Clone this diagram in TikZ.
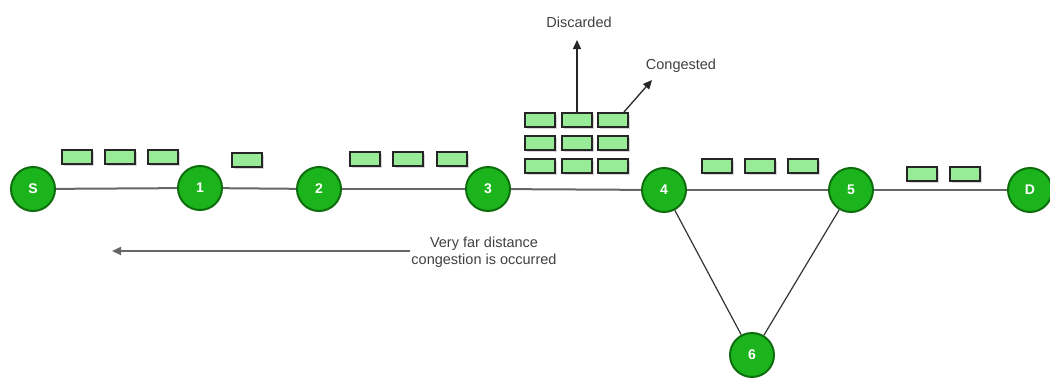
\documentclass[tikz,border=0pt]{standalone}
\usepackage{fontspec}
\setmainfont{Liberation Sans}
\usetikzlibrary{arrows.meta,shadows}
\definecolor{nodegreen}{HTML}{1CB41C}
\definecolor{nodeborder}{HTML}{0E6E0E}
\definecolor{pktgreen}{HTML}{98EC98}
\definecolor{linegray}{HTML}{666666}
\tikzset{
  router/.style={circle, fill=nodegreen, draw=nodeborder, line width=2pt, minimum size=44pt, inner sep=0pt, text=white, font=\fontsize{14}{14}\selectfont\bfseries},
  pkt/.style={rectangle, fill=pktgreen, draw=black!85, line width=1.8pt, minimum width=30pt, minimum height=14pt, inner sep=0pt, drop shadow={shadow xshift=1.5pt, shadow yshift=-1.5pt, fill=black!30}},
  link/.style={draw=linegray, line width=2pt},
  tlink/.style={draw=black!80, line width=1.2pt},
  lbl/.style={font=\fontsize{14.5}{17}\selectfont, text=black!75, align=center, inner sep=1pt},
  arr/.style={draw=black!85, line width=1.3pt, -{Triangle[length=9pt,width=8pt]}}
}
\begin{document}
\begin{tikzpicture}[x=1pt,y=-1pt]
\useasboundingbox (0,0) rectangle (1050,380);
% routers
\node[router] (S) at (33,189) {S};
\node[router] (n1) at (200,188) {1};
\node[router] (n2) at (319,189) {2};
\node[router] (n3) at (488,189) {3};
\node[router] (n4) at (664,190) {4};
\node[router] (n5) at (851,190) {5};
\node[router] (D) at (1030,190) {D};
\node[router] (n6) at (752,355) {6};
% links
\path[link] (S) -- (n1);
\path[link] (n1) -- (n2);
\path[link] (n2) -- (n3);
\path[link] (n3) -- (n4);
\path[link] (n4) -- (n5);
\path[link] (n5) -- (D);
\path[tlink] (n4) -- (n6);
\path[tlink] (n5) -- (n6);
% packets
\node[pkt] (p1) at (77,157) {};
\node[pkt] (p2) at (120,157) {};
\node[pkt] (p3) at (163,157) {};
\node[pkt] (p4) at (247,160) {};
\node[pkt] (p5) at (365,159) {};
\node[pkt] (p6) at (408,159) {};
\node[pkt] (p7) at (452,159) {};
\node[pkt] (g11) at (540,120) {};
\node[pkt] (g12) at (577,120) {};
\node[pkt] (g13) at (613,120) {};
\node[pkt] (g21) at (540,143) {};
\node[pkt] (g22) at (577,143) {};
\node[pkt] (g23) at (613,143) {};
\node[pkt] (g31) at (540,166) {};
\node[pkt] (g32) at (577,166) {};
\node[pkt] (g33) at (613,166) {};
\node[pkt] (p8) at (717,166) {};
\node[pkt] (p9) at (760,166) {};
\node[pkt] (p10) at (803,166) {};
\node[pkt] (p11) at (922,174) {};
\node[pkt] (p12) at (965,174) {};
% labels and arrows
\node[lbl] (disc) at (579,22) {Discarded};
\coordinate (disctip) at (577,40);
\draw[arr] (g12.north) -- (disctip);
\node[lbl] (cong) at (681,66) {Congested};
\coordinate (congtip) at (652,80);
\draw[arr] (g13.north east) ++(-5pt,0) -- (congtip);
\node[lbl] (far) at (484,252) {Very far distance\\congestion is occurred};
\coordinate (fartip) at (112,251);
\draw[arr, draw=linegray, line width=2pt] (far.west |- 0,251) -- (fartip);
\end{tikzpicture}
\end{document}
